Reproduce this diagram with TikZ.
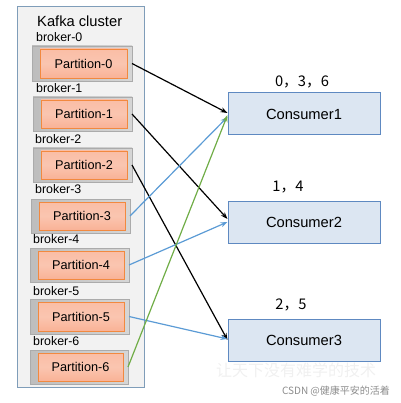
\documentclass[tikz,border=0pt]{standalone}
\usepackage{fontspec}
\setmainfont{Liberation Sans}
\newfontfamily\cjk{Noto Sans CJK SC}
\usetikzlibrary{arrows.meta,calc}
\definecolor{clusterfill}{HTML}{F2F2F2}
\definecolor{clusterdraw}{HTML}{7F9DB9}
\definecolor{grayL}{HTML}{BDBDBD}
\definecolor{grayR}{HTML}{D6D6D6}
\definecolor{graydraw}{HTML}{ABABAB}
\definecolor{orangefill}{HTML}{F9B296}
\definecolor{orangedraw}{HTML}{F2893F}
\definecolor{consfill}{HTML}{DCE6F2}
\definecolor{consdraw}{HTML}{5E89C1}
\definecolor{bluearr}{HTML}{5B9BD5}
\definecolor{greenarr}{HTML}{70AD47}
\tikzset{
  cluster/.style={draw=clusterdraw,fill=clusterfill,line width=1pt},
  brokerbox/.style={draw=graydraw,left color=grayL,right color=grayR,line width=0.8pt},
  partbox/.style={draw=orangedraw,top color=orangefill!85,bottom color=orangefill,middle color=orangefill!75,line width=0.8pt},
  parttext/.style={font=\fontsize{12.7}{14}\selectfont,text=black},
  brokertext/.style={font=\fontsize{12.4}{14}\selectfont,anchor=west,inner sep=0pt},
  consumer/.style={draw=consdraw,fill=consfill,line width=1pt,minimum width=152pt,minimum height=42pt,inner sep=0pt,font=\fontsize{14.7}{16}\selectfont},
  lbl/.style={font=\cjk\fontsize{14.7}{16}\selectfont,inner sep=0pt},
  conn/.style={line width=1.2pt,-{Stealth[length=7pt,width=5pt]}},
}
\begin{document}
\begin{tikzpicture}[x=1pt,y=-1pt]
\useasboundingbox (0,0) rectangle (400,403);
% cluster
\draw[cluster] (17,7) rectangle (144,387);
\node[font=\fontsize{14.7}{16}\selectfont,anchor=west,inner sep=0pt] (title) at (37,21) {Kafka cluster};
% brokers: label y, outer box x1,y1,x2,y2, label x
\foreach \i/\ly/\lx/\xa/\ya/\xb/\yb in {0/37/36/32/46/132/81, 1/88/36/33/97/132/131, 2/139/35/33/148/132/182, 3/189/35/31/199/130/233, 4/239/33/30/248/129/282, 5/291/33/30/299/129/334, 6/341/33/30/350/128/384}{
  \node[brokertext] (b\i) at (\lx,\ly) {broker-\i};
  \path[brokerbox] (\xa,\ya) rectangle (\xb,\yb);
  \coordinate (g\i) at (\xb,{(\ya+\yb)/2});
  \draw[partbox] ({\xa+8},{\ya+3}) rectangle ({\xb-5},{\yb-3});
  \node[parttext] (p\i) at ({(\xa+8+\xb-5)/2},{(\ya+\yb)/2}) {Partition-\i};
}
% consumers
\node[consumer] (c1) at (304,114) {Consumer1};
\node[consumer] (c2) at (304,222) {Consumer2};
\node[consumer] (c3) at (304,340) {Consumer3};
\node[lbl] (l1) at (302,82) {0，3，6};
\node[lbl] (l2) at (288,187) {1，4};
\node[lbl] (l3) at (291,305) {2，5};
% connectors
\draw[conn,black] (g0) -- ($(c1.west)+(0,-1)$);
\draw[conn,black] (g1) -- ($(c2.west)+(0,-3)$);
\draw[conn,black] (g2) -- (c3.west);
\draw[conn,bluearr] (g3) -- ($(c1.west)+(0,3)$);
\draw[conn,bluearr] (g4) -- (c2.west);
\draw[conn,bluearr] (g5) -- ($(c3.west)+(0,-1)$);
\draw[conn,greenarr] (g6) -- ($(c1.west)+(0,1)$);
% watermarks
\node[font=\cjk\fontsize{16}{18}\selectfont,text=black!6,inner sep=0pt] (wm) at (296,370) {让天下没有难学的技术};
\node[font=\cjk\fontsize{10}{12}\selectfont,text=black!45,inner sep=0pt] (csdn) at (336,391) {CSDN @健康平安的活着};
\end{tikzpicture}
\end{document}
